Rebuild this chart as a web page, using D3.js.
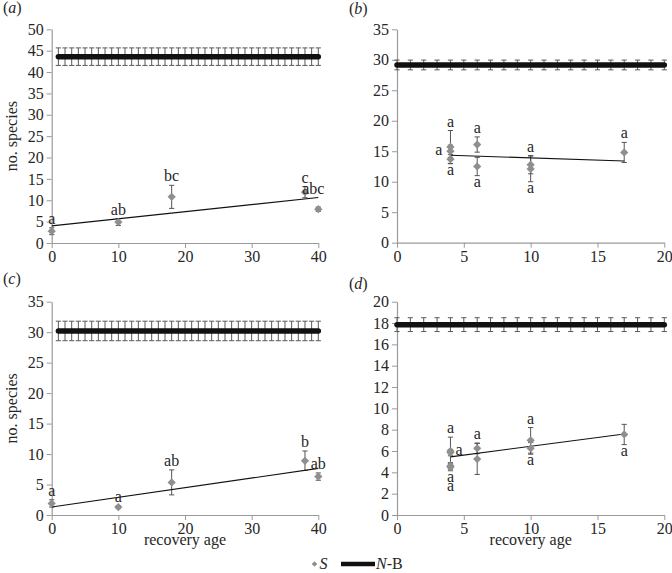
<!DOCTYPE html>
<html><head><meta charset="utf-8">
<script src="https://cdn.jsdelivr.net/npm/d3@7"></script>
<style>
body{margin:0;background:#fff;}
svg{display:block;}
svg text{font-family:"Liberation Serif",serif !important;}
</style></head>
<body><svg id="chart" width="672" height="573"></svg>
<script>
// ---------- data ----------
// Panel (a)
const aAge    = [0, 10, 18, 38, 40];
const aS      = [2.75, 4.9, 10.8, 11.9, 7.9];
const aErr    = [0.8, 0.8, 2.7, 1.3, 0.5];
const aLetter = ["a", "ab", "bc", "c", "abc"];
const aPlace  = ["above", "above", "above", "above", "aboveFar"];
const aTrendX = [0, 40];
const aTrendY = [4.0, 10.65];
const aNBAges = [1,2,3,4,5,6,7,8,9,10,11,12,13,14,15,16,17,18,19,20,21,22,23,24,25,26,27,28,29,30,31,32,33,34,35,36,37,38,39,40];
const aNB = 43.6, aNBErr = 2.05;

// Panel (b)
const bAge    = [4, 4, 4, 6, 6, 10, 10, 17];
const bS      = [15.7, 15.0, 13.7, 16.1, 12.5, 12.8, 12.1, 14.8];
const bErr    = [2.7, 1.0, 0.75, 1.25, 1.5, 1.5, 2.1, 1.65];
const bLetter = ["a", "a", "a", "a", "a", "a", "a", "a"];
const bPlace  = ["above", "left", "below", "above", "below", "above", "below", "above"];
const bTrendX = [4, 17];
const bTrendY = [14.35, 13.4];
const bNBAges = [0,1,2,3,4,5,6,7,8,9,10,11,12,13,14,15,16,17,18,19,20];
const bNB = 29.15, bNBErr = 0.8;

// Panel (c)
const cAge    = [0, 10, 18, 38, 40];
const cS      = [1.9, 1.3, 5.35, 8.9, 6.3];
const cErr    = [0.6, 0.2, 2.05, 1.6, 0.6];
const cLetter = ["a", "a", "ab", "b", "ab"];
const cPlace  = ["above", "above", "above", "above", "above"];
const cTrendX = [0, 40];
const cTrendY = [1.3, 7.65];
const cNBAges = aNBAges;
const cNB = 30.2, cNBErr = 1.6;

// Panel (d)
const dAge    = [4, 4, 4, 4, 6, 6, 10, 10, 17];
const dS      = [6.0, 5.85, 4.5, 4.6, 6.25, 5.25, 7.0, 6.25, 7.55];
const dErr    = [1.3, 0.3, 0.35, 0.3, 0.5, 1.45, 1.2, 0.55, 0.95];
const dLetter = ["a", "a", "a", "a", "a", "a", "a", "a", "a"];
const dPlace  = ["above", "right", "below", "below2", "above", "none", "above", "below", "below"];
const dTrendX = [4, 17];
const dTrendY = [5.45, 7.6];
const dNBAges = bNBAges;
const dNB = 17.85, dNBErr = 0.65;

const yTicksA = [0,5,10,15,20,25,30,35,40,45,50];
const yTicksB = [0,5,10,15,20,25,30,35];
const yTicksC = [0,5,10,15,20,25,30,35];
const yTicksD = [0,2,4,6,8,10,12,14,16,18,20];
const xTicks40 = [0,10,20,30,40];
const xTicks20 = [0,5,10,15,20];

const panelLabels = ["a", "b", "c", "d"];
const yTitle = "no. species";
const xTitle = "recovery age";
const legendS = "S";
const legendNB = ["N", "-B"];

// ---------- drawing ----------
const FF = "Liberation Serif";
const root = d3.select("#chart").append("g").attr("font-family", FF).style("font-family", FF);
const FSIZE = 16;
const GREY = "#8f8f8f";
const TXT = "#262626";

const layout = {
  a: {x0: 51.7, x1: 318.3, y0: 243, y1: 29.3},
  b: {x0: 397, x1: 664.3, y0: 242.7, y1: 29.3},
  c: {x0: 51.7, x1: 318.3, y0: 515, y1: 301.7},
  d: {x0: 397, x1: 664.3, y0: 515, y1: 301.7}
};

function styleText(sel) {
  return sel.style("font-family", FF).style("font-size", FSIZE + "px").attr("fill", TXT);
}

function drawPanel(key, p) {
  const L = layout[key];
  const x = d3.scaleLinear().domain(p.xDomain).range([L.x0, L.x1]);
  const y = d3.scaleLinear().domain(p.yDomain).range([L.y0, L.y1]);
  const g = root.append("g");

  // axes
  const yAx = g.append("g").attr("transform", `translate(${L.x0},0)`)
    .call(d3.axisLeft(y).tickValues(p.yTicks).tickSize(5).tickSizeOuter(0).tickPadding(3));
  const xAx = g.append("g").attr("transform", `translate(0,${L.y0})`)
    .call(d3.axisBottom(x).tickValues(p.xTicks).tickSize(5).tickSizeOuter(0).tickPadding(3));
  [yAx, xAx].forEach(ax => {
    ax.attr("font-family", null).attr("font-size", null);
    ax.select(".domain").attr("stroke", "#9a9a9a").attr("stroke-width", 1.2);
    ax.selectAll(".tick line").attr("stroke", "#9a9a9a");
    styleText(ax.selectAll(".tick text"));
  });

  // N-B error bars then line
  const nb = g.append("g");
  const capW = 2.6;
  p.nbAges.forEach(a => {
    const cx = x(a), t = y(p.nb + p.nbErr), b = y(p.nb - p.nbErr);
    nb.append("line").attr("x1", cx).attr("x2", cx).attr("y1", t).attr("y2", b)
      .attr("stroke", "#5a5a5a").attr("stroke-width", 1);
    [t, b].forEach(v => nb.append("line").attr("x1", cx - capW).attr("x2", cx + capW)
      .attr("y1", v).attr("y2", v).attr("stroke", "#5a5a5a").attr("stroke-width", 1));
  });
  nb.append("line")
    .attr("x1", x(d3.min(p.nbAges))).attr("x2", x(d3.max(p.nbAges)))
    .attr("y1", y(p.nb)).attr("y2", y(p.nb))
    .attr("stroke", "#111").attr("stroke-width", 5.5).attr("stroke-linecap", "round");

  // S error bars
  const eg = g.append("g");
  p.age.forEach((a, i) => {
    const cx = x(a), t = y(p.s[i] + p.err[i]), b = y(p.s[i] - p.err[i]);
    eg.append("line").attr("x1", cx).attr("x2", cx).attr("y1", t).attr("y2", b)
      .attr("stroke", "#555").attr("stroke-width", 1);
    [t, b].forEach(v => eg.append("line").attr("x1", cx - 2.6).attr("x2", cx + 2.6)
      .attr("y1", v).attr("y2", v).attr("stroke", "#555").attr("stroke-width", 1));
  });

  // trend line
  g.append("line")
    .attr("x1", x(p.trendX[0])).attr("y1", y(p.trendY[0]))
    .attr("x2", x(p.trendX[1])).attr("y2", y(p.trendY[1]))
    .attr("stroke", "#111").attr("stroke-width", 1.1);

  // diamonds (square rotated 45°)
  const diamond = d3.symbol().type(d3.symbolSquare).size(34);
  g.append("g").selectAll("path").data(p.age).join("path")
    .attr("d", diamond)
    .attr("transform", (a, i) => `translate(${x(a)},${y(p.s[i])}) rotate(45)`)
    .attr("fill", GREY);

  // letters
  const lg = g.append("g");
  p.age.forEach((a, i) => {
    const pl = p.place[i];
    if (pl === "none") return;
    const cx = x(a);
    let tx = cx, ty, anchor = "middle";
    if (pl === "above") ty = y(p.s[i] + p.err[i]) - 4;
    else if (pl === "aboveFar") { ty = y(p.s[i] + p.err[i]) - 13; tx = cx - 5; }
    else if (pl === "below") ty = y(p.s[i] - p.err[i]) + 11;
    else if (pl === "below2") ty = y(p.s[i] - p.err[i]) + 22;
    else if (pl === "left") { tx = cx - 8; ty = y(p.s[i]) + 4; anchor = "end"; }
    else if (pl === "right") { tx = cx + 5; ty = y(p.s[i]) + 2; anchor = "start"; }
    styleText(lg.append("text").attr("x", tx).attr("y", ty).attr("text-anchor", anchor))
      .text(p.letter[i]);
  });

  // panel label
  const pt = styleText(root.append("text").attr("x", p.labX).attr("y", p.labY));
  pt.append("tspan").text("(");
  pt.append("tspan").attr("font-style", "italic").text(p.label);
  pt.append("tspan").text(")");

  // axis titles
  if (p.yTitle) {
    const cy = (L.y0 + L.y1) / 2;
    styleText(root.append("text").attr("transform", `translate(17,${cy}) rotate(-90)`)
      .attr("text-anchor", "middle")).text(yTitle);
  }
  if (p.xTitle) {
    styleText(root.append("text").attr("x", (L.x0 + L.x1) / 2).attr("y", L.y0 + 30)
      .attr("text-anchor", "middle")).text(xTitle);
  }
}

drawPanel("a", {xDomain: [0, 40], yDomain: [0, 50], xTicks: xTicks40, yTicks: yTicksA,
  age: aAge, s: aS, err: aErr, letter: aLetter, place: aPlace, trendX: aTrendX, trendY: aTrendY,
  nbAges: aNBAges, nb: aNB, nbErr: aNBErr, label: panelLabels[0], labX: 3, labY: 13, yTitle: true});
drawPanel("b", {xDomain: [0, 20], yDomain: [0, 35], xTicks: xTicks20, yTicks: yTicksB,
  age: bAge, s: bS, err: bErr, letter: bLetter, place: bPlace, trendX: bTrendX, trendY: bTrendY,
  nbAges: bNBAges, nb: bNB, nbErr: bNBErr, label: panelLabels[1], labX: 349, labY: 14});
drawPanel("c", {xDomain: [0, 40], yDomain: [0, 35], xTicks: xTicks40, yTicks: yTicksC,
  age: cAge, s: cS, err: cErr, letter: cLetter, place: cPlace, trendX: cTrendX, trendY: cTrendY,
  nbAges: cNBAges, nb: cNB, nbErr: cNBErr, label: panelLabels[2], labX: 3, labY: 284, yTitle: true, xTitle: true});
drawPanel("d", {xDomain: [0, 20], yDomain: [0, 20], xTicks: xTicks20, yTicks: yTicksD,
  age: dAge, s: dS, err: dErr, letter: dLetter, place: dPlace, trendX: dTrendX, trendY: dTrendY,
  nbAges: dNBAges, nb: dNB, nbErr: dNBErr, label: panelLabels[3], labX: 349, labY: 289, xTitle: true});

// legend
const leg = root.append("g");
leg.append("path").attr("d", d3.symbol().type(d3.symbolSquare).size(16)())
  .attr("transform", "translate(314.5,564) rotate(45)").attr("fill", GREY);
styleText(leg.append("text").attr("x", 319.5).attr("y", 569).attr("font-style", "italic")).text(legendS);
leg.append("line").attr("x1", 341).attr("x2", 375).attr("y1", 564).attr("y2", 564)
  .attr("stroke", "#111").attr("stroke-width", 4.5);
const nbT = styleText(leg.append("text").attr("x", 376).attr("y", 569));
nbT.append("tspan").attr("font-style", "italic").text(legendNB[0]);
nbT.append("tspan").text(legendNB[1]);
</script>
</body></html>
